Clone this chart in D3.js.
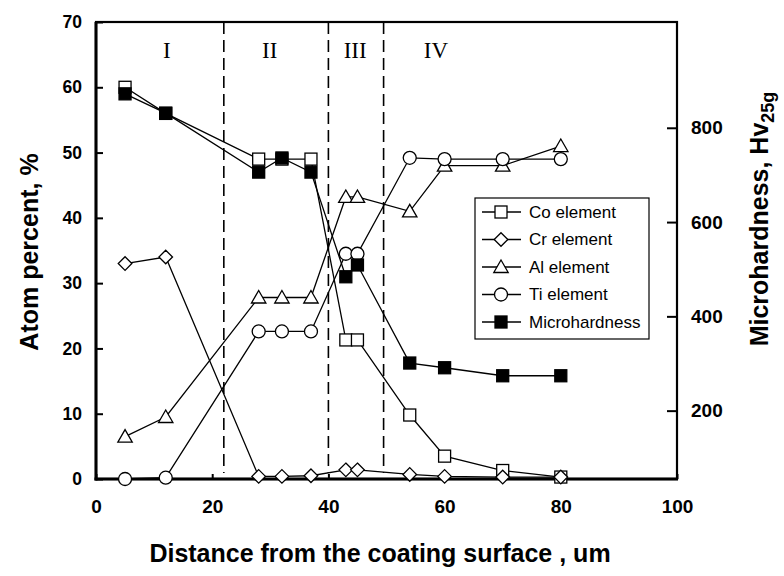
<!DOCTYPE html>
<html><head><meta charset="utf-8">
<script src="https://cdn.jsdelivr.net/npm/d3@7"></script>
<style>body{margin:0;background:#fff} svg{display:block}</style>
</head><body>
<script>
// ---- data ----
const distance = [5, 12, 28, 32, 37, 43, 45, 54, 60, 70, 80];
const coElement = [60, 56, 49, 49, 49, 21.3, 21.3, 9.8, 3.5, 1.3, 0.3];
const crElement = [33, 34, 0.4, 0.4, 0.5, 1.4, 1.4, 0.7, 0.4, 0.3, 0.3];
const alElement = [6.5, 9.5, 27.8, 27.8, 27.8, 43.2, 43.2, 41, 48, 48, 51];
const tiElement = [0, 0.2, 22.6, 22.6, 22.6, 34.5, 34.5, 49.2, 49, 49, 49];
const microhardness = [872, 831, 706, 736, 706, 484, 509, 301, 291, 274, 274];
const xTicks = [0, 20, 40, 60, 80, 100];
const leftTicks = [0, 10, 20, 30, 40, 50, 60, 70];
const rightTicks = [200, 400, 600, 800];
const zoneBounds = [22, 40, 49.5];
const zoneLabels = ["I", "II", "III", "IV"];
const zoneLabelPos = [12.2, 29.9, 44.6, 58.5];
const seriesNames = ["Co element", "Cr element", "Al element", "Ti element", "Microhardness"];

// ---- layout ----
const W = 784, H = 576;
const L = 96, R = 677, T = 22, B = 479;
const svg = d3.select("body").append("svg").attr("width", W).attr("height", H);

const x = d3.scaleLinear().domain([0, 100]).range([L, R]);
const yL = d3.scaleLinear().domain([0, 70]).range([B, T]);
const yR = d3.scaleLinear().domain([55, 1024.4]).range([B, T]);

const font = "'Liberation Sans', Arial, sans-serif";

// axes
const gx = svg.append("g").attr("transform", `translate(0,${B})`)
  .call(d3.axisBottom(x).tickValues(xTicks).tickSize(-5).tickPadding(21).tickFormat(d3.format("d")));
const gl = svg.append("g").attr("transform", `translate(${L},0)`)
  .call(d3.axisLeft(yL).tickValues(leftTicks).tickSize(-7).tickPadding(14).tickFormat(d3.format("d")));
const gr = svg.append("g").attr("transform", `translate(${R},0)`)
  .call(d3.axisRight(yR).tickValues(rightTicks).tickSize(-10).tickPadding(14).tickFormat(d3.format("d")));
[[gx, 19], [gl, 17.5], [gr, 19]].forEach(([g, fs]) => {
  g.select(".domain").remove();
  g.selectAll(".tick line").attr("stroke", "#000").attr("stroke-width", 2);
  g.selectAll(".tick text").attr("font-family", font).attr("font-weight", "bold")
    .attr("font-size", fs).attr("fill", "#000");
});

// frame
svg.append("rect").attr("x", L).attr("y", T).attr("width", R - L).attr("height", B - T)
  .attr("fill", "none").attr("stroke", "#000").attr("stroke-width", 2.2);
svg.append("line").attr("x1", L).attr("x2", L).attr("y1", T).attr("y2", B + 1.5)
  .attr("stroke", "#000").attr("stroke-width", 3);
svg.append("line").attr("x1", L - 1.5).attr("x2", R + 1).attr("y1", B).attr("y2", B)
  .attr("stroke", "#000").attr("stroke-width", 3);

// zone dashed lines
svg.append("g").selectAll("line").data(zoneBounds).join("line")
  .attr("x1", d => x(d)).attr("x2", d => x(d)).attr("y1", T).attr("y2", B - 6)
  .attr("stroke", "#000").attr("stroke-width", 1.6).attr("stroke-dasharray", "12,6");
svg.append("g").selectAll("text").data(zoneLabels).join("text")
  .attr("x", (d, i) => x(zoneLabelPos[i])).attr("y", 58)
  .attr("text-anchor", "middle").attr("font-family", "'Liberation Serif', 'Times New Roman', serif")
  .attr("font-size", 23).text(d => d);

// markers
function marker(g, type, cx, cy) {
  if (type === "square" || type === "fsquare") {
    g.append("rect").attr("x", cx - 6).attr("y", cy - 6).attr("width", 12).attr("height", 12)
      .attr("fill", type === "fsquare" ? "#000" : "#fff").attr("stroke", "#000").attr("stroke-width", 1.3);
  } else if (type === "diamond") {
    const r = 6.8;
    g.append("path").attr("d", `M${cx},${cy - r}L${cx + r},${cy}L${cx},${cy + r}L${cx - r},${cy}Z`)
      .attr("fill", "#fff").attr("stroke", "#000").attr("stroke-width", 1.3);
  } else if (type === "triangle") {
    g.append("path").attr("d", `M${cx},${cy - 7}L${cx + 7.2},${cy + 5.5}L${cx - 7.2},${cy + 5.5}Z`)
      .attr("fill", "#fff").attr("stroke", "#000").attr("stroke-width", 1.3);
  } else {
    g.append("circle").attr("cx", cx).attr("cy", cy).attr("r", 6.5)
      .attr("fill", "#fff").attr("stroke", "#000").attr("stroke-width", 1.3);
  }
}

const series = [
  { vals: coElement, scale: yL, type: "square" },
  { vals: crElement, scale: yL, type: "diamond" },
  { vals: alElement, scale: yL, type: "triangle" },
  { vals: tiElement, scale: yL, type: "circle" },
  { vals: microhardness, scale: yR, type: "fsquare" }
];
series.forEach(s => {
  const g = svg.append("g");
  const line = d3.line().x((d, i) => x(distance[i])).y(d => s.scale(d));
  g.append("path").attr("d", line(s.vals)).attr("fill", "none").attr("stroke", "#000").attr("stroke-width", 1.3);
  s.vals.forEach((v, i) => marker(g, s.type, x(distance[i]), s.scale(v)));
});

// legend
const lg = svg.append("g");
lg.append("rect").attr("x", 475).attr("y", 198).attr("width", 174).attr("height", 141)
  .attr("fill", "#fff").attr("stroke", "#000").attr("stroke-width", 1.2);
seriesNames.forEach((name, i) => {
  const yy = 212 + i * 27.5;
  lg.append("line").attr("x1", 482).attr("x2", 521).attr("y1", yy).attr("y2", yy)
    .attr("stroke", "#000").attr("stroke-width", 1.3);
  marker(lg, series[i].type, 501, yy);
  lg.append("text").attr("x", 529).attr("y", yy).attr("dy", "0.35em")
    .attr("font-family", font).attr("font-size", 17).text(name);
});

// axis titles
svg.append("text").attr("x", 380).attr("y", 562).attr("text-anchor", "middle")
  .attr("font-family", font).attr("font-weight", "bold").attr("font-size", 25)
  .text("Distance from the coating surface , um");
svg.append("text").attr("transform", "translate(38,252) rotate(-90)").attr("text-anchor", "middle")
  .attr("font-family", font).attr("font-weight", "bold").attr("font-size", 25)
  .text("Atom percent, %");
const rt = svg.append("text").attr("transform", "translate(768,219) rotate(-90)").attr("text-anchor", "middle")
  .attr("font-family", font).attr("font-weight", "bold").attr("font-size", 25);
rt.append("tspan").text("Microhardness, Hv");
rt.append("tspan").attr("font-size", 18).attr("dy", 6).text("25g");
</script>
</body></html>
